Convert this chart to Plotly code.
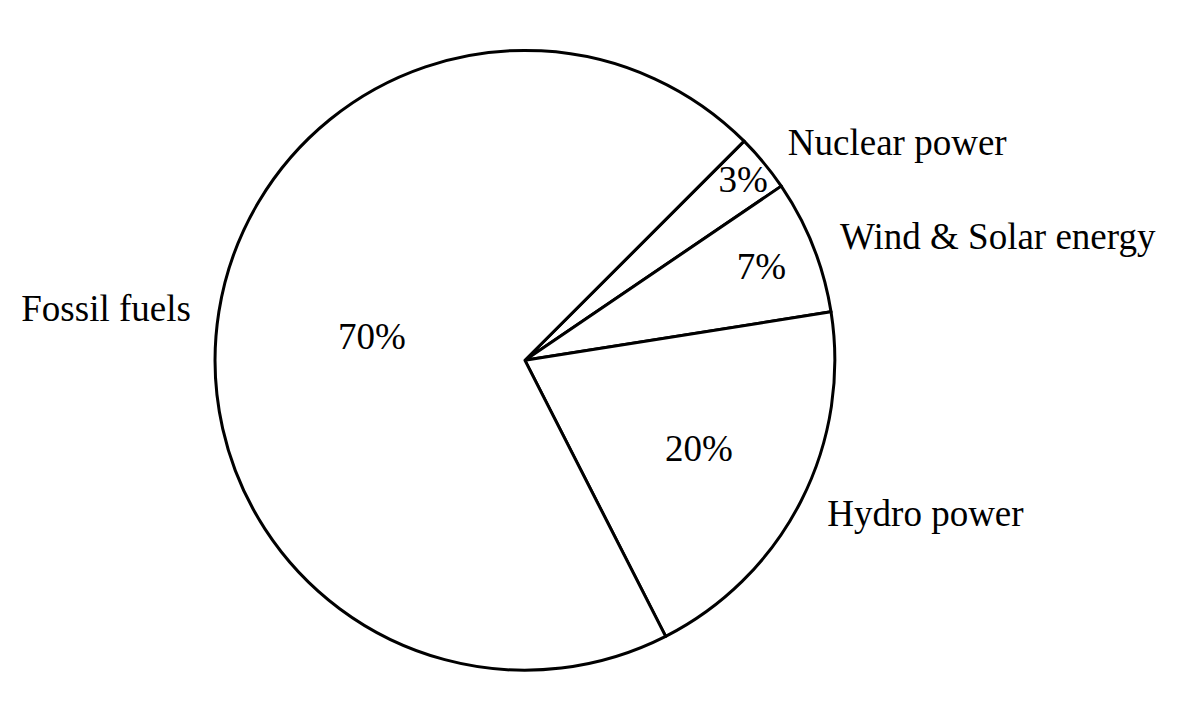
import plotly.graph_objects as go

labels = ["Nuclear power", "Wind & Solar energy", "Hydro power", "Fossil fuels"]
values = [3, 7, 20, 70]

FONT = "Liberation Serif"
dom = dict(x=[0.1725, 0.6891], y=[0.079, 0.941])
# slightly larger invisible pie used only to push the outside labels outward
dom_lab = dict(x=[0.1575, 0.7041], y=[0.0540, 0.9660])

fig = go.Figure()
fig.add_trace(go.Pie(
    labels=labels, values=values, sort=False, direction="clockwise", rotation=45,
    domain=dom,
    marker=dict(colors=["white"] * 4, line=dict(color="black", width=3)),
    texttemplate="%{percent:.0%}", textposition="inside",
    insidetextorientation="horizontal",
    textfont=dict(family=FONT, size=37, color="black"),
    showlegend=False, hoverinfo="label+percent",
))
fig.add_trace(go.Pie(
    labels=labels, values=values, sort=False, direction="clockwise", rotation=45,
    domain=dom_lab,
    marker=dict(colors=["rgba(0,0,0,0)"] * 4, line=dict(width=0)),
    texttemplate="%{label}", textposition="outside",
    outsidetextfont=dict(family=FONT, size=37, color="black"),
    showlegend=False, hoverinfo="skip",
))
fig.update_layout(
    width=1200, height=719,
    margin=dict(l=0, r=0, t=0, b=0),
    paper_bgcolor="white", plot_bgcolor="white",
    uniformtext=dict(minsize=37, mode="show"),
    font=dict(family=FONT, color="black"),
)
fig.write_html("out.html")
